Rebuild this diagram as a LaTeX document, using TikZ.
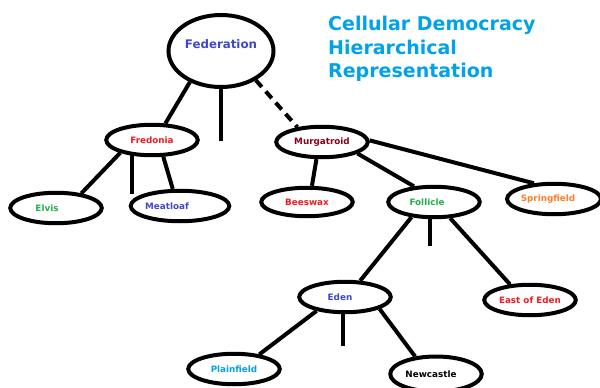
\documentclass[tikz,border=0pt]{standalone}
\usepackage{fontspec}
\setmainfont{DejaVu Sans}
\usetikzlibrary{shapes.geometric}
\definecolor{pblue}{HTML}{3F48CC}
\definecolor{pred}{HTML}{ED1C24}
\definecolor{pdred}{HTML}{880015}
\definecolor{pgreen}{HTML}{22B14C}
\definecolor{porange}{HTML}{FF7F27}
\definecolor{psky}{HTML}{00A2E8}
\begin{document}
\begin{tikzpicture}[x=1pt,y=-1pt,
  cell/.style={ellipse, draw=black, line width=4pt, inner sep=0pt,
    minimum width=91.5pt, minimum height=30.5pt,
    font=\bfseries\fontsize{8.8}{10}\selectfont},
  link/.style={line width=4pt},
  dlink/.style={line width=4pt, dash pattern=on 9pt off 6pt}]
\useasboundingbox[fill=white] (0,0) rectangle (600,388);

\node[cell, minimum width=105pt, minimum height=72pt, text=pblue,
  font=\bfseries\fontsize{11.8}{13}\selectfont, text height=8.5pt, text depth=14pt]
  (fed) at (221,51) {Federation};
\node[anchor=north west, inner sep=0pt, align=left, text=psky,
  font=\bfseries\fontsize{19}{23.5}\selectfont] (title) at (328,16)
  {Cellular Democracy\\Hierarchical\\Representation};

\node[cell, text=pred] (fre) at (152,140) {Fredonia};
\node[cell, text=pgreen] (elv) at (56,208) {Elvis\kern18pt};
\node[cell, text=pblue] (mea) at (180,206) {Meatloaf\kern26pt};
\node[cell, text=pdred] (mur) at (322,142) {Murgatroid};
\node[cell, text=pred, minimum height=28.5pt] (bee) at (307,202) {Beeswax};
\node[cell, text=pgreen] (fol) at (434,202) {Follicle\kern14pt};
\node[cell, text=porange, minimum width=88pt] (spr) at (554,199) {Springfield\kern12pt};
\node[cell, text=pblue] (ede) at (345,297) {Eden\kern10pt};
\node[cell, text=pred] (eoe) at (530,300) {East of Eden};
\node[cell, text=psky] (pla) at (234,369) {Plainfield};
\node[cell, text=black, minimum height=35pt] (new) at (436,374) {Newcastle\kern10pt};

\coordinate (fedstub) at (221,141);
\coordinate (frestub) at (132,194);
\coordinate (folstub) at (430,246);
\coordinate (edestub) at (343,346);

\draw[link] (fed.225) -- (fre.51);
\draw[link] (fed.south) -- (fedstub);
\draw[dlink] (fed.320) -- (mur.149);

\draw[link] (fre.202) -- (elv.30);
\draw[link] (frestub |- fre.215) -- (frestub);
\draw[link] (fre.304) -- (mea.113);

\draw[link] (mur.252) -- (bee.73);
\draw[link] (mur.342) -- (fol.142);
\draw[link] (mur.2) -- (spr.142);

\draw[link] (fol.214) -- (ede.47);
\draw[link] (folstub |- fol.south) -- (folstub);
\draw[link] (fol.315) -- (eoe.142);

\draw[link] (ede.206) -- (pla.30);
\draw[link] (edestub |- ede.south) -- (edestub);
\draw[link] (ede.341) -- (new.140);
\end{tikzpicture}
\end{document}
